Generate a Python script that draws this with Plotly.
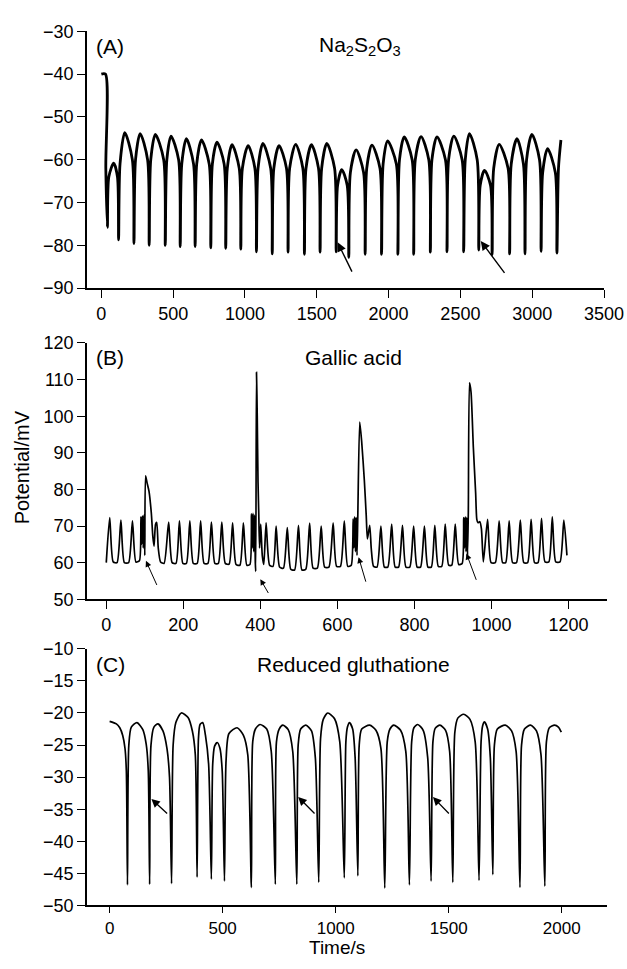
import plotly.graph_objects as go

# ---------------- Panel A : Na2S2O3 ----------------
a_time = [0, 28, 31, 42,
          52, 86, 112, 120,
          130, 163, 216, 227,
          238, 270, 322, 333,
          344, 376, 434, 445,
          456, 485, 538, 549,
          560, 592, 642, 653,
          664, 697, 751, 762,
          773, 805, 855, 866,
          877, 910, 960, 971,
          982, 1022, 1069, 1080,
          1091, 1125, 1179, 1190,
          1201, 1237, 1289, 1300,
          1311, 1353, 1403, 1414,
          1425, 1463, 1512, 1523,
          1534, 1570, 1624, 1635,
          1645, 1674, 1712, 1723,
          1734, 1774, 1826, 1837,
          1848, 1884, 1940, 1951,
          1962, 1993, 2054, 2065,
          2076, 2109, 2164, 2175,
          2186, 2226, 2280, 2291,
          2302, 2337, 2396, 2407,
          2418, 2454, 2512, 2523,
          2534, 2563, 2617, 2628,
          2638, 2668, 2710, 2721,
          2732, 2770, 2832, 2843,
          2854, 2894, 2939, 2950,
          2961, 2998, 3051, 3062,
          3073, 3107, 3161, 3172,
          3183, 3200]
a_potential = [-40, -40, -62, -75.8,
               -64, -60.8, -64, -78.7,
               -61, -53.7, -60, -79.6,
               -60, -53.9, -60, -80,
               -60, -54.1, -60, -80,
               -60, -54.5, -60, -80.3,
               -61, -55.1, -61, -80.3,
               -61, -55.4, -61, -80.6,
               -61, -55.9, -61, -80.7,
               -62, -56.5, -62, -80.9,
               -62, -56.7, -62, -81.5,
               -62, -56.2, -62, -82,
               -62, -56.7, -62, -81.6,
               -62, -56.4, -62, -82.1,
               -62, -56.5, -62, -81.6,
               -62, -56.2, -62, -81.5,
               -66, -62.3, -66, -82.8,
               -63, -57.7, -63, -82.1,
               -62, -56.6, -62, -82.1,
               -61, -55.6, -61, -82.1,
               -60, -54.7, -60, -82.1,
               -60, -54.6, -60, -81.6,
               -60, -54.7, -60, -81.5,
               -60, -54.5, -60, -81.5,
               -60, -53.9, -60, -81.1,
               -66, -62.5, -66, -82.2,
               -62, -56.4, -62, -82,
               -61, -55.1, -61, -82,
               -60, -54.1, -60, -81.4,
               -63, -57.4, -63, -81.8,
               -62, -55.4]

# ---------------- Panel B : Gallic acid ----------------
b_time = [0, 9, 18, 28,
          38, 47, 58,
          68, 77, 86,
          90, 92, 94, 96, 98, 100, 102, 106, 111, 117, 121, 124, 128, 131, 135, 141, 150,
          162, 171, 181,
          190, 199, 208,
          217, 226, 236,
          245, 254, 264,
          273, 282, 291,
          300, 309, 319,
          328, 337, 347,
          356, 365, 373,
          377, 379, 381, 383, 385, 387, 388, 390, 392, 394, 396, 398, 401, 405, 409,
          415, 424, 433,
          441, 450, 460,
          470, 479, 489,
          499, 508, 518,
          528, 537, 548,
          558, 567, 578,
          589, 598, 608,
          618, 627, 636,
          641, 643, 645, 647, 649, 651, 653, 658, 663, 670, 675, 678, 684, 688, 694, 703,
          713, 722, 731,
          741, 750, 759,
          769, 778, 788,
          798, 807, 816,
          826, 835, 844,
          853, 862, 871,
          880, 889, 897,
          906, 915, 924,
          928, 930, 932, 934, 936, 938, 940, 943, 947, 953, 959, 962, 965, 970, 974, 979,
          990, 999, 1010,
          1020, 1029, 1037,
          1046, 1055, 1065,
          1075, 1084, 1094,
          1103, 1112, 1121,
          1130, 1139, 1149,
          1158, 1167, 1178,
          1188, 1196]
b_potential = [60.0, 72.3, 60.2, 60.0,
               71.6, 60.0, 60.0,
               71.4, 60.2, 60.5,
               72.5, 65, 72.8, 64, 73, 62, 83.7, 81.8, 79.5, 73.5, 67, 64.5, 70.5, 71, 64, 60.2, 59.8,
               71.1, 60.0, 59.8,
               71.4, 59.8, 59.8,
               71.4, 59.8, 59.8,
               71.4, 59.8, 59.8,
               71.1, 59.8, 59.8,
               71.1, 59.8, 59.6,
               70.9, 59.5, 59.3,
               70.9, 59.3, 59.5,
               73.3, 64, 73.5, 63, 73, 60, 57.6, 112, 100, 82, 73, 64, 70.5, 62, 59.5,
               70.9, 59.3, 59.0,
               70.0, 58.8, 58.5,
               69.6, 58.2, 58.0,
               70.2, 58.0, 58.2,
               70.8, 58.5, 58.5,
               70.0, 58.8, 58.8,
               70.9, 59.0, 59.0,
               71.4, 59.0, 59.3,
               72, 64, 72.5, 63, 72.3, 62, 72.5, 98.4, 93.2, 82.5, 72.7, 66.5, 70.2, 63.8, 59.0, 58.8,
               70.0, 58.8, 58.8,
               70.5, 58.8, 58.8,
               70.2, 58.8, 58.8,
               70.0, 58.8, 58.8,
               70.0, 58.8, 58.8,
               70.2, 59.0, 59.0,
               70.5, 59.3, 59.3,
               70.5, 59.5, 59.8,
               72.3, 64, 72.5, 63, 72.3, 62, 74, 109.1, 106.6, 91.5, 79, 71.8, 70.9, 71.2, 69.2, 60.2,
               71.8, 60.0, 60.0,
               71.4, 60.0, 60.0,
               71.4, 60.0, 60.0,
               71.6, 60.0, 60.0,
               71.8, 60.0, 60.0,
               72.1, 60.2, 60.2,
               72.5, 60.2, 60.2,
               71.6, 62.0]

# ---------------- Panel C : Reduced gluthatione ----------------
c_time = [0, 30, 45, 58, 68, 74, 79,
          85, 96, 121, 147, 162, 171, 177,
          183, 196, 214, 236, 254, 265, 274,
          281, 293, 317, 347, 366, 379, 387,
          393, 400, 412, 424, 438, 450,
          456, 464, 476, 488, 498, 508,
          515, 528, 564, 592, 611, 627,
          633, 645, 665, 695, 715, 733,
          738, 750, 766, 790, 810, 828,
          834, 845, 868, 893, 910, 925,
          933, 945, 965, 995, 1018, 1038,
          1045, 1052, 1061, 1075, 1086, 1098,
          1104, 1115, 1150, 1178, 1200, 1217,
          1228, 1240, 1257, 1287, 1310, 1326,
          1336, 1346, 1363, 1387, 1407, 1422,
          1430, 1440, 1461, 1486, 1504, 1518,
          1527, 1540, 1566, 1594, 1617, 1634,
          1643, 1650, 1658, 1672, 1684, 1695,
          1702, 1715, 1750, 1778, 1798, 1815,
          1822, 1835, 1862, 1888, 1908, 1925,
          1932, 1945, 1968, 1985, 1998]
c_potential = [-21.3, -21.7, -22.3, -23.5, -25.5, -29, -46.8,
               -25, -22.2, -21.5, -22.6, -24.9, -29, -46.7,
               -25, -22.2, -21.7, -22.8, -25.6, -30, -46.6,
               -25, -21.5, -20.0, -20.7, -22.8, -26.5, -45.6,
               -24, -21.8, -21.5, -23.5, -28, -45.9,
               -28, -25.2, -24.6, -25.5, -29, -46.2,
               -27.5, -23.2, -22.3, -23.5, -26.5, -47.2,
               -24.5, -22.5, -21.8, -22.5, -26, -46.7,
               -24.5, -22.5, -21.9, -22.6, -26, -46.7,
               -25, -22.5, -21.9, -22.8, -27, -46.4,
               -24, -21, -20.0, -20.9, -24.5, -45.7,
               -24.5, -22.2, -21.5, -22.5, -27, -45.4,
               -25, -22.5, -21.9, -22.7, -25.5, -47.3,
               -24.5, -22.5, -21.9, -22.7, -26, -46.8,
               -24.5, -22.3, -21.8, -22.7, -27, -46.2,
               -24.5, -22.4, -21.9, -22.7, -26, -46.4,
               -23, -20.8, -20.2, -21, -24.5, -46.1,
               -24.5, -22, -21.4, -22.5, -27, -45.2,
               -25, -22.5, -21.9, -22.8, -26, -47.2,
               -25, -22.5, -21.9, -22.8, -26.5, -47.0,
               -24.5, -22.3, -21.9, -22.2, -23.0]

# arrows: (head time, head value, tail time, tail value)
a_arrow_head_t = [1645, 2642]
a_arrow_head_v = [-79.3, -79.0]
a_arrow_tail_t = [1750, 2815]
a_arrow_tail_v = [-86.5, -86.8]

b_arrow_head_t = [103, 400, 655, 935]
b_arrow_head_v = [60.5, 55.5, 61.5, 62.5]
b_arrow_tail_t = [133, 423, 675, 962]
b_arrow_tail_v = [53.5, 51.3, 54.4, 54.9]

c_arrow_head_t = [185, 834, 1430]
c_arrow_head_v = [-33.4, -33.1, -33.1]
c_arrow_tail_t = [261, 913, 1507]
c_arrow_tail_v = [-35.9, -35.9, -35.9]

panel_letters = ["(A)", "(B)", "(C)"]
panel_titles = ["Na<sub>2</sub>S<sub>2</sub>O<sub>3</sub>", "Gallic acid", "Reduced gluthatione"]

# ---------------- figure ----------------
W, H = 627, 969
L, R = 87, 20
FONT = "Liberation Sans, Arial, sans-serif"

def py(px):
    return (H - px) / H

def pxx(px):
    return (px - L) / (W - L - R)

fig = go.Figure()
fig.add_trace(go.Scatter(x=a_time, y=a_potential, mode="lines", xaxis="x", yaxis="y",
                         line=dict(color="black", width=2.8, shape="spline", smoothing=0.8),
                         showlegend=False, hoverinfo="skip"))
fig.add_trace(go.Scatter(x=b_time, y=b_potential, mode="lines", xaxis="x2", yaxis="y2",
                         line=dict(color="black", width=1.7, shape="spline", smoothing=0.6),
                         showlegend=False, hoverinfo="skip"))
fig.add_trace(go.Scatter(x=c_time, y=c_potential, mode="lines", xaxis="x3", yaxis="y3",
                         line=dict(color="black", width=1.7, shape="spline", smoothing=0.7),
                         showlegend=False, hoverinfo="skip"))

axis_common = dict(showline=True, linecolor="black", linewidth=1.6, ticks="outside",
                   tickwidth=1.3, tickcolor="black", showgrid=False,
                   zeroline=False, mirror=False)
tf18 = dict(family=FONT, size=18, color="black")
tf17 = dict(family=FONT, size=17, color="black")

fig.update_layout(
    width=W, height=H,
    margin=dict(l=L, r=R, t=0, b=0),
    paper_bgcolor="white", plot_bgcolor="white",
    showlegend=False,
    xaxis=dict(domain=[0, pxx(604)], anchor="y", range=[-100, 3500], ticklen=8, tickfont=tf18,
               tickvals=[0, 500, 1000, 1500, 2000, 2500, 3000, 3500], **axis_common),
    yaxis=dict(domain=[py(284), py(21.7)], anchor="x", range=[-90, -30], dtick=10, ticklen=8, tickfont=tf18, **axis_common),
    xaxis2=dict(domain=[0, 1], anchor="y2", range=[-50, 1300], ticklen=8, tickfont=tf18,
                tickvals=[0, 200, 400, 600, 800, 1000, 1200], **axis_common),
    yaxis2=dict(domain=[py(601.7), py(340)], anchor="x2", range=[50, 120], dtick=10, ticklen=8, tickfont=tf18, **axis_common),
    xaxis3=dict(domain=[0, 1], anchor="y3", range=[-100, 2200], ticklen=6, tickfont=tf17,
                tickvals=[0, 500, 1000, 1500, 2000], **axis_common),
    yaxis3=dict(domain=[py(914.3), py(652.3)], anchor="x3", range=[-50, -10], dtick=5, ticklen=8, tickfont=tf18, **axis_common),
)

ann = []
label_y = [37, 355, 668]
title_x = [360, 353.5, 353]
for i in range(3):
    ann.append(dict(text=panel_letters[i], x=pxx(110), y=py(label_y[i]), xref="paper", yref="paper",
                    xanchor="center", yanchor="middle", showarrow=False,
                    font=dict(family=FONT, size=21, color="black")))
    ann.append(dict(text=panel_titles[i], x=pxx(title_x[i]), y=py(label_y[i]), xref="paper", yref="paper",
                    xanchor="center", yanchor="middle", showarrow=False,
                    font=dict(family=FONT, size=21, color="black")))

ann.append(dict(text="Potential/mV", x=pxx(22), y=py(467), xref="paper", yref="paper",
                xanchor="center", yanchor="middle", textangle=-90, showarrow=False,
                font=dict(family=FONT, size=20, color="black")))
ann.append(dict(text="Time/s", x=pxx(336.5), y=0, xref="paper", yref="paper",
                xanchor="center", yanchor="bottom", showarrow=False, borderpad=0,
                font=dict(family=FONT, size=19, color="black")))

def add_arrows(ht, hv, tt, tv, xr, yr, width, size, head):
    for i in range(len(ht)):
        ann.append(dict(text="", x=ht[i], y=hv[i], ax=tt[i], ay=tv[i], xref=xr, yref=yr,
                        axref=xr, ayref=yr, showarrow=True, arrowhead=head,
                        arrowsize=size, arrowwidth=width, arrowcolor="black"))

add_arrows(a_arrow_head_t, a_arrow_head_v, a_arrow_tail_t, a_arrow_tail_v, "x", "y", 1.4, 1.3, 2)
add_arrows(b_arrow_head_t, b_arrow_head_v, b_arrow_tail_t, b_arrow_tail_v, "x2", "y2", 1.0, 1.2, 2)
add_arrows(c_arrow_head_t, c_arrow_head_v, c_arrow_tail_t, c_arrow_tail_v, "x3", "y3", 1.3, 1.3, 2)

fig.update_layout(annotations=ann)
fig.write_html("out.html",
               config={"displayModeBar": False},
               post_script="document.body.style.margin='0px';document.body.style.overflow='hidden';")
